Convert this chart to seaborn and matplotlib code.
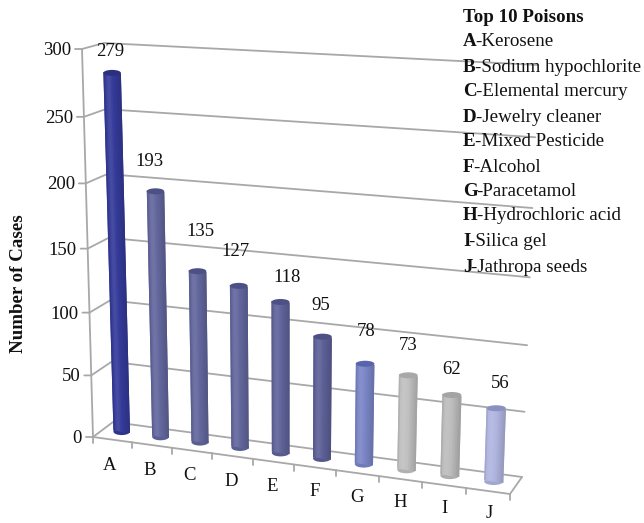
import numpy as np
import matplotlib
matplotlib.use("Agg")
import matplotlib.pyplot as plt
import seaborn as sns
from matplotlib.colors import to_rgb
from matplotlib.patches import Ellipse, Rectangle
from matplotlib.transforms import Transform

# values
categories = ["A", "B", "C", "D", "E", "F", "G", "H", "I", "J"]
cases = [279, 193, 135, 127, 118, 95, 78, 73, 62, 56]
y_ticks = [0, 50, 100, 150, 200, 250, 300]
poisons = ["Kerosene", "Sodium hypochlorite", "Elemental mercury", "Jewelry cleaner",
           "Mixed Pesticide", "Alcohol", "Paracetamol", "Hydrochloric acid",
           "Silica gel", "Jathropa seeds"]
bar_colors = ["#343A98", "#62669C", "#62669C", "#62669C", "#5F6399",
              "#5C6096", "#7A85C6", "#C0C0C0", "#BCBCBC", "#B0B5E0"]
top_colors = ["#2A2F80", "#4C5085", "#4C5085", "#4C5085", "#4C5085",
              "#4C5085", "#5A64AC", "#A8A8A8", "#A4A4A4", "#8C90C0"]

# layout, in pixels of the 644x523 picture
label_xy = [(110, 51), (149, 161), (200, 231), (235, 251), (287, 277),
            (321, 305), (366, 332), (408, 345), (452, 369), (500, 384)]
legend_y = [42, 67, 92, 117, 142, 167, 191, 216, 241, 268]
GRID = "#A8A8A8"


class Plane(Transform):
    # perspective map from (category position, value) to picture pixels
    input_dims = 2
    output_dims = 2
    is_affine = False

    def __init__(self, corners):
        super().__init__()
        src = [(-0.5, 0), (-0.5, 300), (9.5, 0), (9.5, 300)]
        a, b = [], []
        for (x, y), (u, v) in zip(src, corners):
            a.append([x, y, 1, 0, 0, 0, -u * x, -u * y])
            a.append([0, 0, 0, x, y, 1, -v * x, -v * y])
            b += [u, v]
        self.h = np.append(np.linalg.solve(np.array(a, float), np.array(b, float)), 1).reshape(3, 3)

    def transform_non_affine(self, values):
        values = np.ma.getdata(values).astype(float)
        pts = np.column_stack([values, np.ones(len(values))]) @ self.h.T
        return pts[:, :2] / pts[:, 2:]

    def pt(self, x, y):
        return self.transform_non_affine(np.array([[x, y]], float))[0]


front_c = [(93, 437), (82, 49), (510, 494), (525, 80)]
back_c = [(113, 422), (104, 43), (522, 477), (538, 65)]
mid_c = [(102.5, 429), (91, 43), (516, 484.5), (531.5, 69)]
front = Plane(front_c)
back = Plane(back_c)
mid = Plane(mid_c)

sns.set_theme(style="white")
plt.rcParams["font.family"] = ["Liberation Serif", "DejaVu Serif"]

fig = plt.figure(figsize=(6.44, 5.23), dpi=100)
ax = fig.add_axes([0, 0, 1, 1])

sns.barplot(x=categories, y=cases, hue=categories, palette=bar_colors, saturation=1,
            width=0.43, legend=False, ax=ax, zorder=3)
bars = list(ax.patches)
for p in bars:
    p.set_transform(mid + ax.transData)
    p.set_edgecolor("none")

# cylinder shading across each bar, strips overlap a little so no seams show
shade = np.array([-.08, .02, .07, .09, .07, .03, 0, -.03, -.06, -.09, -.12, -.15])
for p, v, top in zip(bars, cases, top_colors):
    xl = p.get_x()
    w = p.get_width()
    base = np.array(to_rgb(p.get_facecolor()))
    sw = w / len(shade)
    for k, s in enumerate(shade):
        col = base + (1 - base) * s if s > 0 else base * (1 + s)
        ax.add_patch(Rectangle((xl + k * sw, 0), min(1.6 * sw, w - k * sw), v, color=col, lw=0,
                               transform=mid + ax.transData, zorder=3.1 + k * 0.001))
    cx = xl + w / 2
    left, right = mid.pt(xl, 0), mid.pt(xl + w, 0)
    ax.add_patch(Ellipse(mid.pt(cx, 0), right[0] - left[0], 7, color=base * 0.92, lw=0, zorder=2.9))
    left, right = mid.pt(xl, v), mid.pt(xl + w, v)
    ax.add_patch(Ellipse(mid.pt(cx, v), right[0] - left[0], 6, color=top, lw=0, zorder=3.2))

# walls and floor
for t in y_ticks:
    f, b = front.pt(-0.5, t), back.pt(-0.5, t)
    e = back.pt(9.5, t)
    ax.plot([f[0] - 7, f[0], b[0], e[0]], [f[1], f[1], b[1], e[1]], color=GRID, lw=1.3, zorder=1)
    ax.text(f[0] - 11, f[1] + 1.5, str(t), ha="right", va="center", fontsize=13.5, color="#111111")
p0, p1 = front.pt(-0.5, 0), front.pt(-0.5, 300)
ax.plot([p0[0], p1[0]], [p0[1], p1[1]], color=GRID, lw=1.3, zorder=1)
p1, p2 = front.pt(9.5, 0), back.pt(9.5, 0)
ax.plot([p0[0], p1[0], p2[0]], [p0[1], p1[1], p2[1]], color=GRID, lw=1.3, zorder=4)
for i in range(11):
    q = front.pt(i - 0.5, 0)
    ax.plot([q[0], q[0]], [q[1], q[1] + 6], color=GRID, lw=1.3, zorder=4)

for i, c in enumerate(categories):
    q = front.pt(i, 0)
    ax.text(q[0] - 3 + i * 0.45, q[1] + 26 - i * 0.35, c, ha="center", va="center", fontsize=13.5, color="#111111")

for (x, y), v in zip(label_xy, cases):
    ax.text(x, y, str(v), ha="center", va="center", fontsize=13.5, color="#111111")

ax.text(19, 284, "Number of Cases", rotation=90, ha="center", va="center",
        fontsize=13.6, fontweight="bold", color="#111111")

# legend block
ax.text(463, 17, "Top 10 Poisons", ha="left", va="center", fontsize=13.6, fontweight="bold", color="#111111")
for c, name, y in zip(categories, poisons, legend_y):
    tag = ax.text(463, y, c, ha="left", va="center", fontsize=13.7, fontweight="bold", color="#111111")
    ax.annotate("-" + name, xy=(1, 0.5), xycoords=tag, xytext=(-1, 0), textcoords="offset pixels",
                ha="left", va="center", fontsize=13.7, color="#111111", zorder=5)

ax.set_xlim(0, 644)
ax.set_ylim(523, 0)
ax.set_axis_off()
fig.savefig("out.png", dpi=100)
